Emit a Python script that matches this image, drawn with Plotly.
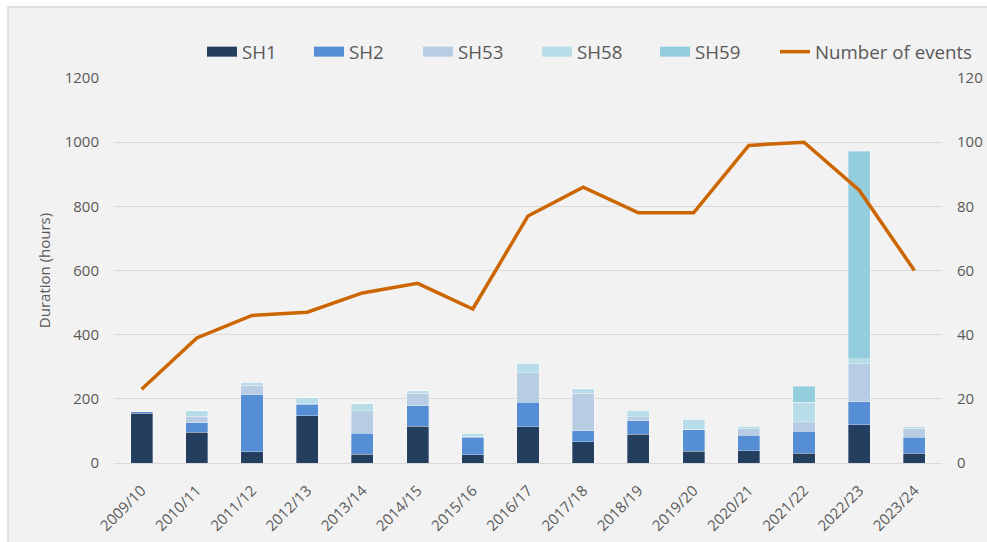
import plotly.graph_objects as go

seasons = ["2009/10", "2010/11", "2011/12", "2012/13", "2013/14", "2014/15", "2015/16",
           "2016/17", "2017/18", "2018/19", "2019/20", "2020/21", "2021/22", "2022/23", "2023/24"]
sh1 = [155, 96, 35, 147, 28, 115, 25, 113, 66, 89, 37, 38, 31, 119, 31]
sh2 = [5, 29, 178, 36, 64, 63, 56, 77, 34, 43, 66, 49, 68, 72, 50]
sh53 = [0, 20, 29, 2, 71, 40, 2, 92, 117, 12, 2, 19, 29, 119, 27]
sh58 = [0, 18, 10, 18, 21, 7, 10, 29, 14, 21, 32, 9, 62, 15, 7]
sh59 = [0, 0, 0, 0, 0, 0, 0, 0, 0, 0, 0, 0, 50, 646, 0]
events = [23, 39, 46, 47, 53, 56, 48, 77, 86, 78, 78, 99, 100, 85, 60]

series_names = ["SH1", "SH2", "SH53", "SH58", "SH59"]
series_vals = [sh1, sh2, sh53, sh58, sh59]
colors = ["#243e5f", "#558ed5", "#b8cce4", "#b7dde8", "#94cddd"]
line_name = "Number of events"
line_color = "#cc6600"
text_color = "#595959"
grid_color = "#d9d9d9"
FONT = "Open Sans"

W, H = 987, 542
ML, MR, MT, MB = 114, 45, 78, 79
PW = W - ML - MR
PH = H - MT - MB

# legend entry left edges (px, container coordinates)
legend_px = [202, 309, 418, 537, 655, 775]

fig = go.Figure()

legend_ids = ["legend"] + ["legend%d" % i for i in range(2, 7)]

# legend-only entries (wide rectangle look)
for i, (n, c) in enumerate(zip(series_names, colors)):
    fig.add_trace(go.Scatter(x=[None], y=[None], mode="lines", name=n, legendgroup=n,
                             legend=legend_ids[i],
                             line=dict(color=c, width=12), hoverinfo="skip"))

for n, v, c in zip(series_names, series_vals, colors):
    fig.add_trace(go.Bar(x=seasons, y=v, name=n, legendgroup=n, showlegend=False,
                         marker=dict(color=c, line=dict(color="rgba(255,255,255,0.45)", width=0.7))))

fig.add_trace(go.Scatter(x=seasons, y=events, name=line_name, yaxis="y2", legend=legend_ids[5],
                         mode="lines", line=dict(color=line_color, width=3.5)))

legend_cfg = {}
for i, lid in enumerate(legend_ids):
    legend_cfg[lid] = dict(orientation="h", xref="container", yref="container",
                           x=legend_px[i] / W, xanchor="left",
                           y=1 - 52 / H, yanchor="middle",
                           font=dict(size=18.7, color=text_color, family=FONT),
                           bgcolor="rgba(0,0,0,0)", borderwidth=0, itemclick=False)

fig.update_layout(
    width=W, height=H,
    margin=dict(l=ML, r=MR, t=MT, b=MB, pad=0, autoexpand=False),
    paper_bgcolor="white",
    plot_bgcolor="#f2f2f2",
    font=dict(family=FONT, size=15, color=text_color),
    barmode="stack",
    bargap=0.6,
    showlegend=True,
    xaxis=dict(type="category", tickangle=-45, tickfont=dict(size=15, color=text_color),
               showgrid=False, showline=True, linecolor=grid_color, linewidth=1,
               ticks="", ticklabelstandoff=12, automargin=False),
    yaxis=dict(range=[0, 1200], dtick=200, showgrid=True, gridcolor=grid_color, gridwidth=1,
               zeroline=False, showline=False, ticks="", ticklabelstandoff=14,
               tickfont=dict(size=15, color=text_color), automargin=False,
               title=dict(text="Duration (hours)", font=dict(size=15, color=text_color), standoff=10)),
    yaxis2=dict(range=[0, 120], dtick=20, overlaying="y", side="right", showgrid=False,
                zeroline=False, showline=False, ticks="", ticklabelstandoff=14,
                tickfont=dict(size=15, color=text_color), automargin=False),
    shapes=[dict(type="rect", xref="paper", yref="paper", layer="below",
                 x0=(8 - ML) / PW, x1=(W + 20 - ML) / PW,
                 y0=-(MB + 20) / PH, y1=1 + (MT - 7) / PH,
                 fillcolor="#f2f2f2", line=dict(color=grid_color, width=1.5))],
    **legend_cfg,
)

fig.write_html("out.html", config={"displayModeBar": False},
               post_script="document.body.style.margin='0';document.body.style.padding='0';")
